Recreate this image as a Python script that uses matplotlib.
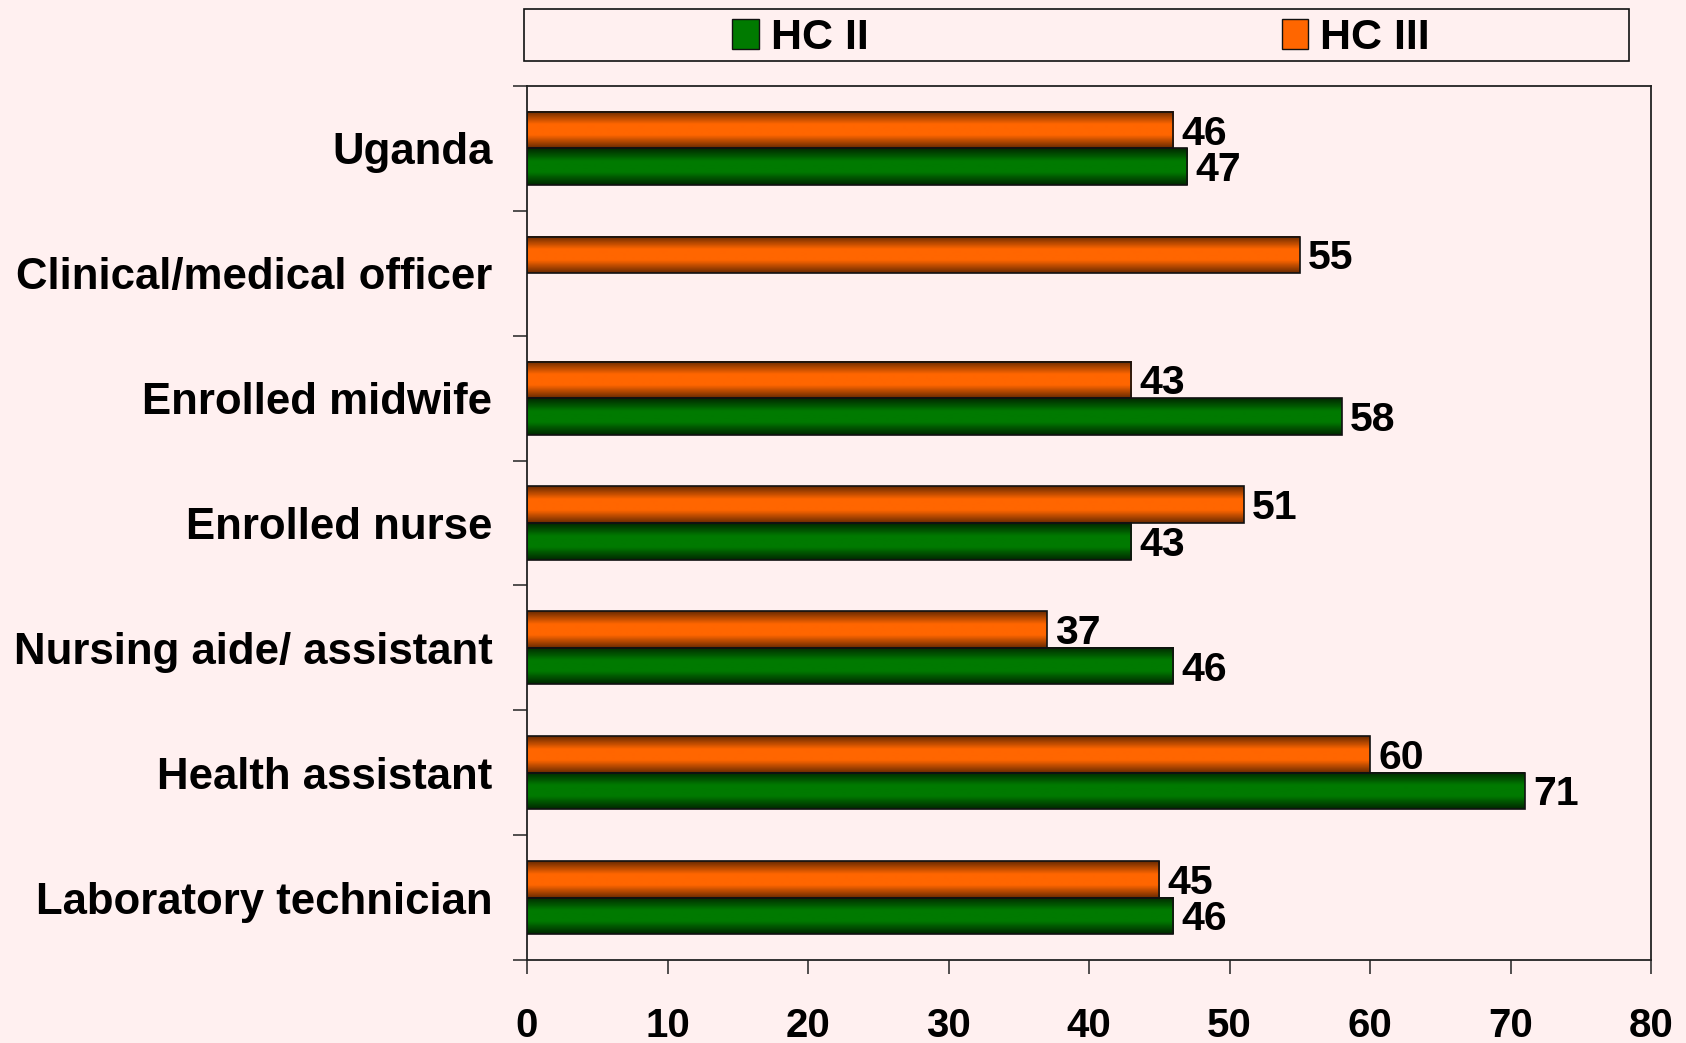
import numpy as np
import matplotlib
matplotlib.use("Agg")
import matplotlib.pyplot as plt
from matplotlib.colors import LinearSegmentedColormap
from matplotlib.patches import Rectangle, Patch

categories = ["Uganda", "Clinical/medical officer", "Enrolled midwife", "Enrolled nurse",
              "Nursing aide/ assistant", "Health assistant", "Laboratory technician"]
hc2 = [47, np.nan, 58, 43, 46, 71, 46]
hc3 = [46, 55, 43, 51, 37, 60, 45]
series_names = ["HC II", "HC III"]
xticks = [0, 10, 20, 30, 40, 50, 60, 70, 80]

BG = "#FFF0F0"
plt.rcParams["font.family"] = ["Liberation Sans", "DejaVu Sans"]
plt.rcParams["font.weight"] = "bold"

fig = plt.figure(figsize=(16.86, 10.43), dpi=100, facecolor=BG)
ax = fig.add_axes([527/1686, 83/1043, (1651-527)/1686, (960-86)/1043])
ax.set_facecolor(BG)

green_cmap = LinearSegmentedColormap.from_list("g", [(0, "#002800"), (0.35, "#007A00"), (0.65, "#007A00"), (1, "#002800")])
orange_cmap = LinearSegmentedColormap.from_list("o", [(0, "#6A2A00"), (0.35, "#FF6600"), (0.65, "#FF6600"), (1, "#6A2A00")])

h = 0.293
y = np.arange(len(categories))
grad = np.linspace(0, 1, 64).reshape(-1, 1)

def draw(vals, offset, cmap):
    vals = np.array(vals, dtype=float)
    bars = ax.barh(y + offset, np.nan_to_num(vals), height=h, facecolor="none",
                   edgecolor="#111111", linewidth=1.2, zorder=3)
    for b, v in zip(bars, vals):
        if np.isnan(v):
            b.set_visible(False)
            continue
        x0, y0 = b.get_xy()
        ax.imshow(grad, extent=[x0, x0 + b.get_width(), y0, y0 + b.get_height()],
                  aspect="auto", cmap=cmap, zorder=2, interpolation="bilinear")
        ax.annotate(f"{int(v)}", xy=(v, b.get_y() + b.get_height() / 2), xytext=(6, -2.5),
                    textcoords="offset points", va="center", ha="left",
                    fontsize=29.5, fontweight="bold", color="black", zorder=4)

draw(hc3, -h / 2, orange_cmap)
draw(hc2, h / 2, green_cmap)

ax.set_xlim(0, 80)
ax.set_ylim(len(categories) - 0.5, -0.5)
ax.set_xticks(xticks)
ax.set_xticklabels([str(t) for t in xticks], fontsize=29, fontweight="bold")
ax.set_yticks(y)
ax.set_yticklabels(categories, fontsize=31.5, fontweight="bold")
ax.set_yticks(np.arange(len(categories) + 1) - 0.5, minor=True)
ax.tick_params(axis="y", which="major", length=0, pad=25)
ax.tick_params(axis="y", which="minor", length=10, width=1.1, color="#222222")
ax.tick_params(axis="x", which="major", length=10, width=1.1, color="#222222", pad=24)
for s in ax.spines.values():
    s.set_linewidth(1.3)
    s.set_color("#222222")

# legend frame
fig.patches.append(Rectangle((524/1686, 1 - 61/1043), (1629-524)/1686, 52/1043,
                             transform=fig.transFigure, facecolor=BG, edgecolor="#111111",
                             linewidth=1.2, zorder=0))
handles = [Patch(facecolor="#007A00", edgecolor="#111111", linewidth=1),
           Patch(facecolor="#FF6600", edgecolor="#111111", linewidth=1)]
fig.legend(handles, series_names, loc="center", bbox_to_anchor=(1081/1686, 1 - 38/1043),
           ncol=2, frameon=False, prop={"size": 31, "weight": "bold"},
           handlelength=0.62, handleheight=0.7, handletextpad=0.28, columnspacing=9.6)

fig.savefig("out.png", dpi=100, facecolor=BG)
